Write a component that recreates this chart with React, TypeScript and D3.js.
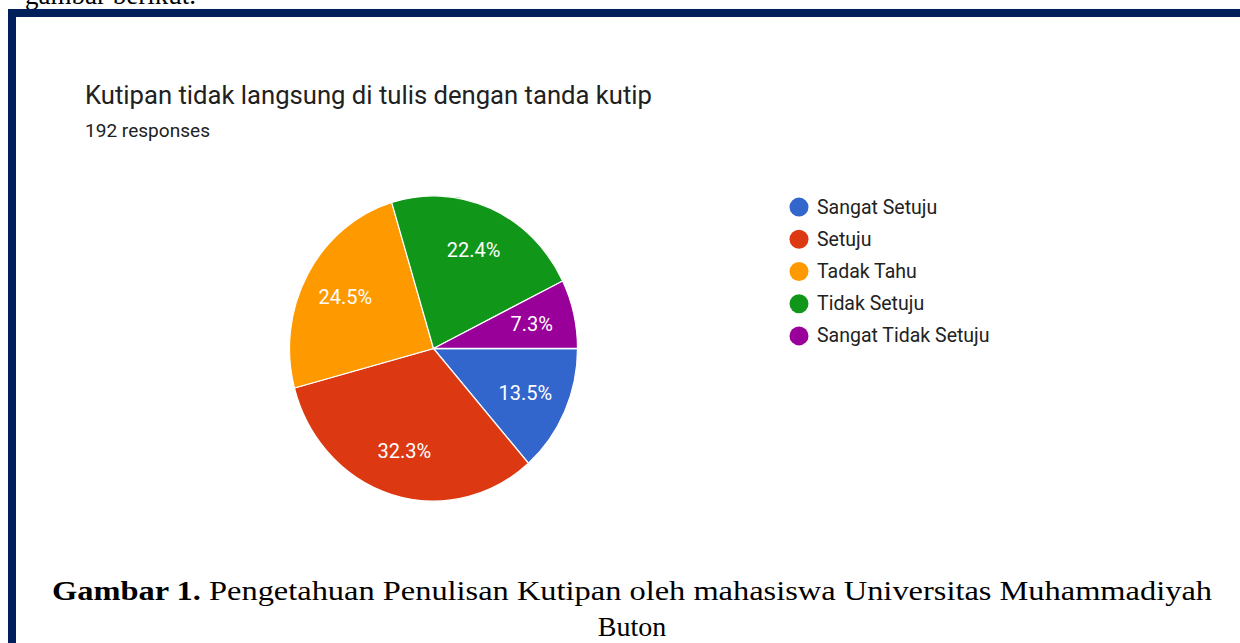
import React from "react";
import * as d3 from "d3";

const categories = ["Sangat Setuju", "Setuju", "Tadak Tahu", "Tidak Setuju", "Sangat Tidak Setuju"];
const counts = [26, 62, 47, 43, 14];
const percentLabels = ["13.5%", "32.3%", "24.5%", "22.4%", "7.3%"];
const colors = ["#3366cc", "#dc3912", "#ff9900", "#109618", "#990099"];

const title = "Kutipan tidak langsung di tulis dengan tanda kutip";
const subtitle = "192 responses";
const captionBold = "Gambar 1.";
const captionRest = " Pengetahuan Penulisan Kutipan oleh mahasiswa Universitas Muhammadiyah";
const captionLine2 = "Buton";
const topText = "gambar berikut.";

const W = 1240;
const H = 643;

export default function App() {
  const cx = 433.5;
  const cy = 348.5;
  const r = 144;
  const sy = 1.06;
  const pie = d3
    .pie<number>()
    .sort(null)
    .value((d) => d)
    .startAngle(Math.PI / 2)
    .endAngle(Math.PI / 2 + 2 * Math.PI);
  const arcs = pie(counts);
  const arc = d3.arc<d3.PieArcDatum<number>>().innerRadius(0).outerRadius(r);
  const labelArc = d3.arc<d3.PieArcDatum<number>>().innerRadius(r * 0.7).outerRadius(r * 0.7);

  const legendY = d3.scaleBand<string>().domain(categories).range([191, 352]);

  const sans = "Roboto, Arial, sans-serif";
  const serif = "'Liberation Serif', 'Times New Roman', serif";

  return (
    <svg
      width={W}
      height={H}
      style={{ position: "absolute", left: 0, top: 0, background: "#fff" }}
    >
      <rect x={0} y={0} width={W} height={H} fill="#fff" />
      <text x={25} y={4} fontFamily={serif} fontSize={27} fill="#000">
        {topText}
      </text>
      <rect x={8} y={9} width={W - 8} height={8} fill="#001f5b" />
      <rect x={8} y={9} width={8} height={H - 9} fill="#001f5b" />

      <text x={85} y={104} fontFamily={sans} fontSize={25.6} fill="#212121" textLength={567} lengthAdjust="spacingAndGlyphs">
        {title}
      </text>
      <text x={85} y={137} fontFamily={sans} fontSize={18.5} fill="#212121" textLength={125} lengthAdjust="spacingAndGlyphs">
        {subtitle}
      </text>

      <g transform={`translate(${cx},${cy}) scale(1,${sy})`}>
        {arcs.map((a, i) => (
          <path key={i} d={arc(a) || ""} fill={colors[i]} stroke="#fff" strokeWidth={1.2} />
        ))}
      </g>
      {arcs.map((a, i) => {
        const [lx, ly] = labelArc.centroid(a);
        return (
          <text
            key={i}
            x={cx + lx}
            y={cy + ly * sy}
            textAnchor="middle"
            dominantBaseline="central"
            fontFamily={sans}
            fontSize={20}
            fill="#fff"
          >
            {percentLabels[i]}
          </text>
        );
      })}

      {categories.map((c, i) => {
        const y = (legendY(c) || 0) + legendY.bandwidth() / 2;
        return (
          <g key={c}>
            <circle cx={799} cy={y} r={9.5} fill={colors[i]} />
            <text
              x={817}
              y={y}
              dominantBaseline="central"
              fontFamily={sans}
              fontSize={19.5}
              fill="#222"
            >
              {c}
            </text>
          </g>
        );
      })}

      <text x={632} y={600} textAnchor="middle" fontFamily={serif} fontSize={28} fill="#000" textLength={1160} lengthAdjust="spacingAndGlyphs">
        <tspan fontWeight="bold">{captionBold}</tspan>
        <tspan>{captionRest}</tspan>
      </text>
      <text x={632} y={636} textAnchor="middle" fontFamily={serif} fontSize={28} fill="#000">
        {captionLine2}
      </text>
    </svg>
  );
}
